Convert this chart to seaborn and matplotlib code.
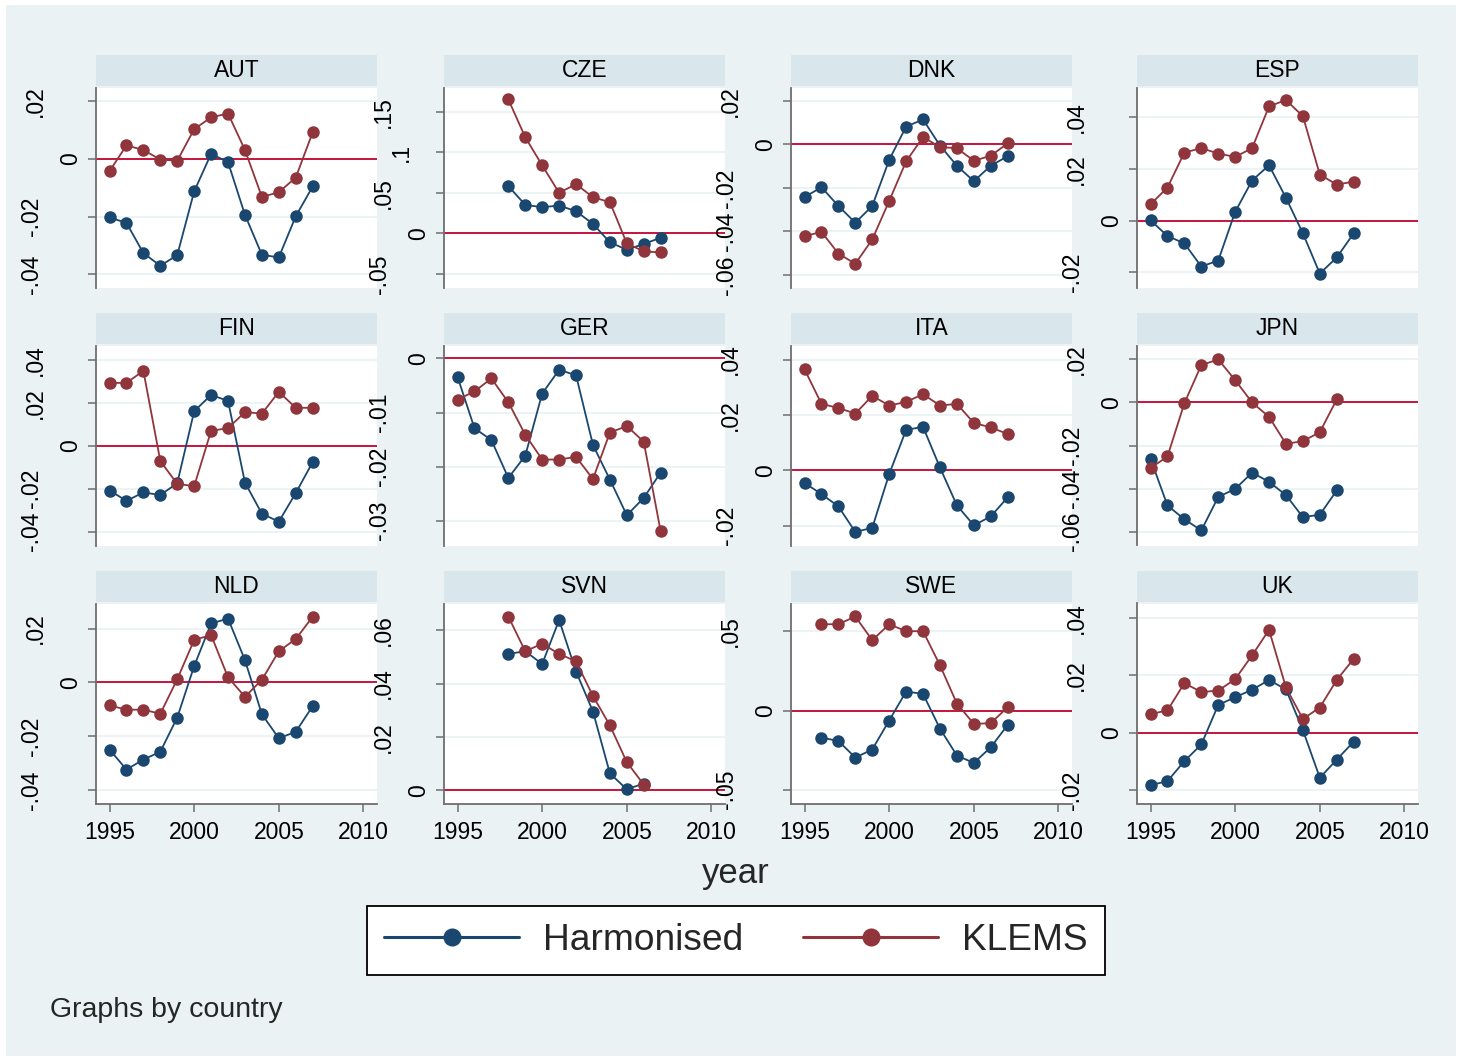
import numpy as np
import pandas as pd
import matplotlib
matplotlib.use("Agg")
import matplotlib.pyplot as plt
import matplotlib.transforms as mtransforms
from matplotlib.patches import Rectangle
from matplotlib.lines import Line2D
import seaborn as sns

sns.set_theme(style="white")
plt.rcParams['font.family'] = ['Liberation Sans', 'DejaVu Sans']
plt.rcParams['axes.unicode_minus'] = False

# ---------------- data ----------------
countries = ["AUT", "CZE", "DNK", "ESP", "FIN", "GER", "ITA", "JPN", "NLD", "SVN", "SWE", "UK"]
start_year = {"AUT": 1995, "CZE": 1998, "DNK": 1995, "ESP": 1995, "FIN": 1995, "GER": 1995,
              "ITA": 1995, "JPN": 1995, "NLD": 1995, "SVN": 1998, "SWE": 1996, "UK": 1995}

harmonised = {
    "AUT": [-0.0203, -0.0222, -0.0326, -0.0370, -0.0333, -0.0113, 0.0017, -0.0012, -0.0194, -0.0332, -0.0341, -0.0199, -0.0096],
    "CZE": [0.0583, 0.0351, 0.0322, 0.0343, 0.0273, 0.0116, -0.0112, -0.0202, -0.0132, -0.0054],
    "DNK": [-0.0242, -0.0197, -0.0283, -0.0360, -0.0283, -0.0071, 0.0082, 0.0115, -0.0005, -0.0098, -0.0169, -0.0098, -0.0054],
    "ESP": [0.0001, -0.0059, -0.0088, -0.0177, -0.0154, 0.0034, 0.0155, 0.0214, 0.0088, -0.0049, -0.0204, -0.0142, -0.0049],
    "FIN": [-0.0208, -0.0256, -0.0217, -0.0229, -0.0174, 0.0161, 0.0237, 0.0209, -0.0171, -0.0316, -0.0353, -0.0220, -0.0076],
    "GER": [-0.0034, -0.0129, -0.0151, -0.0221, -0.0180, -0.0065, -0.0021, -0.0031, -0.0160, -0.0224, -0.0290, -0.0258, -0.0211],
    "ITA": [-0.0046, -0.0086, -0.0131, -0.0223, -0.0208, -0.0014, 0.0146, 0.0157, 0.0010, -0.0127, -0.0199, -0.0167, -0.0098],
    "JPN": [-0.0262, -0.0479, -0.0543, -0.0595, -0.0439, -0.0402, -0.0326, -0.0369, -0.0431, -0.0533, -0.0522, -0.0409],
    "NLD": [-0.0249, -0.0323, -0.0286, -0.0257, -0.0130, 0.0061, 0.0219, 0.0237, 0.0083, -0.0118, -0.0207, -0.0183, -0.0088],
    "SVN": [0.0511, 0.0521, 0.0473, 0.0638, 0.0445, 0.0295, 0.0063, 0.0003, 0.0025],
    "SWE": [-0.0171, -0.0192, -0.0297, -0.0246, -0.0063, 0.0120, 0.0105, -0.0114, -0.0284, -0.0331, -0.0232, -0.0091],
    "UK":  [-0.0183, -0.0169, -0.0099, -0.0041, 0.0097, 0.0124, 0.0150, 0.0184, 0.0151, 0.0009, -0.0157, -0.0094, -0.0031],
}
klems = {
    "AUT": [-0.0043, 0.0046, 0.0030, -0.0003, -0.0007, 0.0102, 0.0143, 0.0156, 0.0030, -0.0132, -0.0116, -0.0065, 0.0091],
    "CZE": [0.1653, 0.1186, 0.0839, 0.0500, 0.0607, 0.0446, 0.0384, -0.0124, -0.0223, -0.0236],
    "DNK": [-0.0422, -0.0402, -0.0502, -0.0549, -0.0437, -0.0260, -0.0078, 0.0034, -0.0012, -0.0017, -0.0075, -0.0052, 0.0005],
    "ESP": [0.0063, 0.0128, 0.0263, 0.0280, 0.0259, 0.0246, 0.0280, 0.0441, 0.0466, 0.0403, 0.0178, 0.0139, 0.0151],
    "FIN": [0.0293, 0.0293, 0.0349, -0.0071, -0.0177, -0.0188, 0.0070, 0.0082, 0.0157, 0.0150, 0.0251, 0.0177, 0.0177],
    "GER": [-0.0076, -0.0061, -0.0037, -0.0081, -0.0141, -0.0187, -0.0187, -0.0182, -0.0223, -0.0137, -0.0125, -0.0154, -0.0320],
    "ITA": [0.0365, 0.0240, 0.0225, 0.0205, 0.0269, 0.0234, 0.0247, 0.0275, 0.0234, 0.0240, 0.0171, 0.0155, 0.0131],
    "JPN": [-0.0305, -0.0251, -0.0003, 0.0174, 0.0200, 0.0104, 0.0000, -0.0067, -0.0192, -0.0180, -0.0138, 0.0014],
    "NLD": [-0.0085, -0.0101, -0.0101, -0.0116, 0.0012, 0.0158, 0.0176, 0.0019, -0.0053, 0.0010, 0.0116, 0.0161, 0.0244],
    "SVN": [0.0651, 0.0521, 0.0549, 0.0511, 0.0483, 0.0353, 0.0243, 0.0105, 0.0021],
    "SWE": [0.0545, 0.0545, 0.0594, 0.0444, 0.0545, 0.0501, 0.0501, 0.0286, 0.0044, -0.0084, -0.0080, 0.0021],
    "UK":  [0.0065, 0.0078, 0.0173, 0.0142, 0.0147, 0.0187, 0.0270, 0.0359, 0.0158, 0.0048, 0.0088, 0.0184, 0.0258],
}

ytick_vals = {
    "AUT": [-0.04, -0.02, 0, 0.02], "CZE": [-0.05, 0, 0.05, 0.1, 0.15],
    "DNK": [-0.06, -0.04, -0.02, 0, 0.02], "ESP": [-0.02, 0, 0.02, 0.04],
    "FIN": [-0.04, -0.02, 0, 0.02, 0.04], "GER": [-0.03, -0.02, -0.01, 0],
    "ITA": [-0.02, 0, 0.02, 0.04], "JPN": [-0.06, -0.04, -0.02, 0, 0.02],
    "NLD": [-0.04, -0.02, 0, 0.02], "SVN": [0, 0.02, 0.04, 0.06],
    "SWE": [-0.05, 0, 0.05], "UK": [-0.02, 0, 0.02, 0.04],
}
xtick_vals = [1995, 2000, 2005, 2010]
series_names = ["Harmonised", "KLEMS"]

# axis ranges (layout)
ylims = {
    "AUT": (-0.0445, 0.0246), "CZE": (-0.0669, 0.180), "DNK": (-0.0658, 0.0262),
    "ESP": (-0.0258, 0.0514), "FIN": (-0.0464, 0.0467), "GER": (-0.0346, 0.0024),
    "ITA": (-0.0272, 0.0451), "JPN": (-0.0665, 0.0265), "NLD": (-0.0449, 0.0293),
    "SVN": (-0.0050, 0.0700), "SWE": (-0.0587, 0.0676), "UK": (-0.0247, 0.0451),
}


def stata_fmt(v):
    if v == 0:
        return "0"
    s = ("%g" % v)
    s = s.replace("0.", ".")
    return s


rows = []
for c in countries:
    for name, src in zip(series_names, [harmonised, klems]):
        for i, v in enumerate(src[c]):
            rows.append({"country": c, "year": start_year[c] + i, "series": name, "value": v})
df = pd.DataFrame(rows)

# ---------------- style ----------------
NAVY = "#1A476F"
MAROON = "#90353B"
REFRED = "#C8143C"
BG = "#EAF2F3"
STRIP = "#D9E6EB"
AXCOL = "#6E6E6E"
FS = 16.5
# Stata places rotated y labels as if they were horizontal & right-aligned:
# distance (px) from the axis line to the label centre, by label length
label_offset_px = {1: 27, 2: 44, 3: 62, 4: 66}
cap_half_px = 0.716 * FS * 100 / 72 / 2

W, H = 1462, 1061
fig = plt.figure(figsize=(W / 100, H / 100), dpi=100)
fig.patch.set_facecolor("white")
fig.patches.append(Rectangle((6 / W, 5 / H), (W - 12) / W, (H - 10) / H,
                             transform=fig.transFigure, facecolor=BG, edgecolor="none", zorder=-10))

lefts = [96, 444, 791, 1137]
tops = [87.5, 345.5, 603.5]
pw, ph = 281, 200

for k, c in enumerate(countries):
    r, col = divmod(k, 4)
    x0 = lefts[col]
    y0 = tops[r]
    ax = fig.add_axes([x0 / W, 1 - (y0 + ph) / H, pw / W, ph / H])
    ax.set_facecolor("white")
    sub = df[df.country == c]
    ax.axhline(0, color=REFRED, lw=1.4, zorder=1)
    sns.lineplot(data=sub, x="year", y="value", hue="series", hue_order=series_names,
                 palette=[NAVY, MAROON], marker="o", markersize=9, markeredgewidth=0,
                 linewidth=1.3, estimator=None, legend=False, ax=ax, zorder=3)
    ax.set_xlim(1994.2, 2010.8)
    ax.set_ylim(*ylims[c])
    ax.set_yticks(ytick_vals[c])
    ax.set_yticklabels([])
    blend = mtransforms.blended_transform_factory(ax.transAxes, ax.transData)
    for v in ytick_vals[c]:
        lab = stata_fmt(v)
        off = label_offset_px[len(lab)] - cap_half_px
        tr = blend + mtransforms.ScaledTranslation(-off / 100, 0, fig.dpi_scale_trans)
        ax.text(0, v, lab, transform=tr, rotation=90, rotation_mode="anchor",
                ha="center", va="baseline", fontsize=FS, color="black", clip_on=False)
    ax.yaxis.grid(True, color=BG, lw=1.3, zorder=0)
    ax.xaxis.grid(False)
    ax.set_xlabel("")
    ax.set_ylabel("")
    for s in ["top", "right"]:
        ax.spines[s].set_visible(False)
    ax.spines["left"].set_color(AXCOL)
    ax.spines["left"].set_linewidth(1.3)
    ax.tick_params(axis="y", length=6, width=1.1, color=AXCOL, pad=4, labelsize=FS,
                   labelcolor="black", left=True)
    if r == 2:
        ax.spines["bottom"].set_color(AXCOL)
        ax.spines["bottom"].set_linewidth(1.3)
        ax.set_xticks(xtick_vals)
        ax.set_xticklabels([str(v) for v in xtick_vals])
        ax.tick_params(axis="x", length=6, width=1.1, color=AXCOL, pad=6.5, labelsize=FS,
                       labelcolor="black", bottom=True)
    else:
        ax.spines["bottom"].set_visible(False)
        ax.set_xticks([])
    # strip title
    ax.add_patch(Rectangle((0, 1 + 1.5 / ph), 1, 31 / ph, transform=ax.transAxes,
                           facecolor=STRIP, edgecolor="none", clip_on=False, zorder=5))
    ax.text(0.5, 1 + 17 / ph, c, transform=ax.transAxes, ha="center", va="center",
            fontsize=FS, color="black", zorder=6)

fig.text(736 / W, 1 - 874 / H, "year", ha="center", va="center", fontsize=25)
fig.text(50 / W, 1 - 1010 / H, "Graphs by country", ha="left", va="center", fontsize=20.5)

handles = [Line2D([], [], color=NAVY, lw=2.2, marker="o", markersize=13, markeredgewidth=0),
           Line2D([], [], color=MAROON, lw=2.2, marker="o", markersize=13, markeredgewidth=0)]
leg = fig.legend(handles, series_names, loc="center", bbox_to_anchor=(736 / W, 1 - 940.5 / H),
                 ncol=2, fontsize=26.7, frameon=True, fancybox=False, edgecolor="black",
                 handlelength=3.65, handletextpad=0.65, columnspacing=1.6, borderpad=0.45,
                 borderaxespad=0)
leg.get_frame().set_linewidth(1.3)
leg.get_frame().set_facecolor("white")
leg.get_frame().set_alpha(1)

fig.savefig("out.png", dpi=100, facecolor=fig.get_facecolor())
